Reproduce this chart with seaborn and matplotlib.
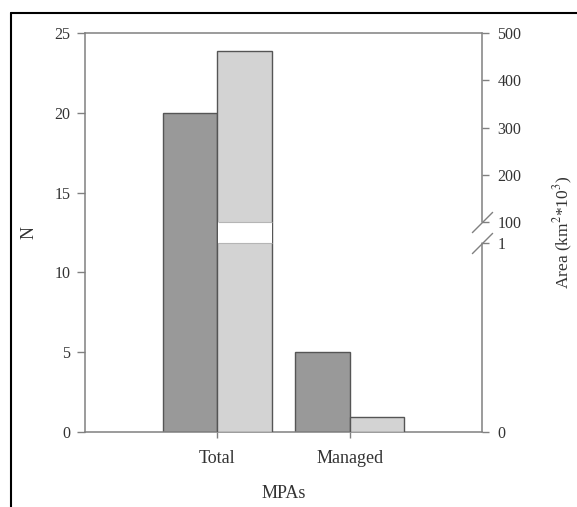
import numpy as np
import pandas as pd
import matplotlib
matplotlib.use('Agg')
import matplotlib.pyplot as plt
import matplotlib.transforms as mtransforms
from matplotlib.lines import Line2D
from matplotlib.patches import Rectangle
import seaborn as sns

## data
mpa_types = ['Total', 'Managed']
n_mpas = [20, 5]
area_k = [462, 0.08]   # area in km2 * 10^3

n_ticks = [0, 5, 10, 15, 20, 25]
area_ticks = [0, 1, 100, 200, 300, 400, 500]

dark = '#999999'
light = '#d3d3d3'
edge = '#555555'
spine_c = '#808080'
txt = '#333333'

sns.set_style('ticks')
plt.rcParams['font.family'] = ['Liberation Serif', 'DejaVu Serif']
plt.rcParams['mathtext.fontset'] = 'stix'

## broken right axis: 0-1 in lower part, 100-500 in upper part
brk_lo, brk_hi = 9 / 19, 10 / 19


def fwd(a):
    a = np.asarray(a, dtype=float)
    lo = a * brk_lo
    mid = brk_lo + (a - 1) / 99 * (brk_hi - brk_lo)
    hi = brk_hi + (a - 100) / 400 * (1 - brk_hi)
    return np.where(a <= 1, lo, np.where(a <= 100, mid, hi))


def inv(y):
    y = np.asarray(y, dtype=float)
    lo = y / brk_lo
    mid = 1 + (y - brk_lo) / (brk_hi - brk_lo) * 99
    hi = 100 + (y - brk_hi) / (1 - brk_hi) * 400
    return np.where(y <= brk_lo, lo, np.where(y <= brk_hi, mid, hi))


df_n = pd.DataFrame({'MPAs': mpa_types, 'value': n_mpas, 'series': 'N'})
df_a = pd.DataFrame({'MPAs': mpa_types, 'value': area_k, 'series': 'Area'})
pal = {'N': dark, 'Area': light}

fig = plt.figure(figsize=(5.77, 5.07), dpi=100)
ax = fig.add_axes([85 / 577, 75 / 507, 397 / 577, 399 / 507])
ax2 = ax.twinx()
ax2.set_yscale('function', functions=(fwd, inv))

sns.barplot(data=df_n, x='MPAs', y='value', hue='series', hue_order=['N', 'Area'],
            order=mpa_types, palette=pal, width=0.82, dodge=True, edgecolor=edge,
            linewidth=1, legend=False, ax=ax)
sns.barplot(data=df_a, x='MPAs', y='value', hue='series', hue_order=['N', 'Area'],
            order=mpa_types, palette=pal, width=0.82, dodge=True, edgecolor=edge,
            linewidth=1, legend=False, ax=ax2)

ax.set_xlim(-1, 2)
ax.set_ylim(0, 25)
ax.set_yticks(n_ticks)
ax2.set_ylim(0, 500)
ax2.set_yticks(area_ticks)
ax2.set_yticklabels([str(t) for t in area_ticks])
ax2.yaxis.set_minor_locator(matplotlib.ticker.NullLocator())

## white gap in the big area bar (the axis break)
bar = max(ax2.patches, key=lambda p: p.get_height())
x0, w = bar.get_x(), bar.get_width()
ax2.add_patch(Rectangle((x0 + 0.004, 1), w, 99, facecolor='white', edgecolor='none',
                        zorder=3))
ax2.hlines([1, 100], x0 + 0.004, x0 + w, colors='#b5b5b5', lw=0.8, zorder=4)

## spines
for s in ['left', 'top', 'bottom']:
    ax.spines[s].set_color(spine_c)
    ax.spines[s].set_linewidth(1.1)
ax.spines['right'].set_visible(False)
for s in ['left', 'top', 'bottom', 'right']:
    ax2.spines[s].set_visible(False)

trans = mtransforms.blended_transform_factory(ax2.transAxes, ax2.transData)
ax2.plot([1, 1], [0, 1], transform=trans, color=spine_c, lw=1.1, clip_on=False)
ax2.plot([1, 1], [100, 500], transform=trans, color=spine_c, lw=1.1, clip_on=False)
ax2.plot([1, 1], [1, 100], transform=trans, ls='none', marker=[(-1, -1), (1, 1)],
         ms=15, mew=1, mec=spine_c, clip_on=False)

ax.tick_params(axis='y', length=5.5, width=1, color=spine_c, pad=5,
               labelsize=11.5, labelcolor=txt)
ax.tick_params(axis='x', length=4, width=1, color=spine_c, pad=9,
               labelsize=13, labelcolor=txt)
ax2.tick_params(axis='y', length=5, width=1, color=spine_c, pad=6,
                labelsize=11.5, labelcolor=txt)

ax.set_xlabel('MPAs', fontsize=13, color=txt, labelpad=13)
ax.set_ylabel('N', fontsize=13, color=txt, labelpad=12)
ax2.set_xlabel('')
ax2.set_ylabel('Area (km$^2$*10$^3$)', fontsize=12.5, color=txt, labelpad=22)

## frame of the original figure (left and top only)
fig.add_artist(Line2D([11 / 577, 11 / 577], [0, 494 / 507], color='k', lw=1.5,
                      transform=fig.transFigure))
fig.add_artist(Line2D([11 / 577, 1], [494 / 507, 494 / 507], color='k', lw=1.5,
                      transform=fig.transFigure))

fig.savefig('out.png', dpi=100)
